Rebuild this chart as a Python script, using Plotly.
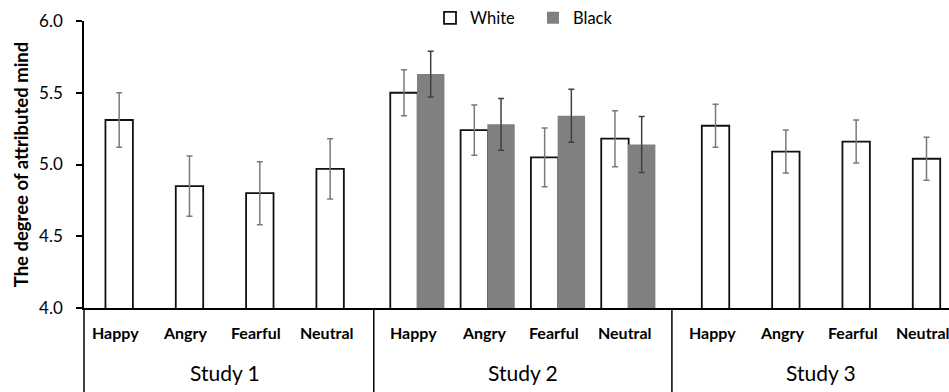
import plotly.graph_objects as go

studies = ["Study 1", "Study 2", "Study 3"]
emotions = ["Happy", "Angry", "Fearful", "Neutral"]

white_mean = [5.31, 4.85, 4.80, 4.97, 5.50, 5.24, 5.05, 5.18, 5.27, 5.09, 5.16, 5.04]
white_err = [0.19, 0.21, 0.22, 0.21, 0.16, 0.175, 0.205, 0.195, 0.15, 0.15, 0.15, 0.15]
black_mean = [None, None, None, None, 5.63, 5.28, 5.34, 5.14, None, None, None, None]
black_err = [None, None, None, None, 0.16, 0.18, 0.185, 0.195, None, None, None, None]

FONT = "Lato"
study_step = 4.24
bar_w = 0.39
half = 0.19

pos = [s * study_step + i for s in range(len(studies)) for i in range(len(emotions))]
white_x = [p - half if b is not None else p for p, b in zip(pos, black_mean)]
black_x = [p + half for p in pos]

fig = go.Figure()
fig.add_trace(go.Bar(
    name="White", x=white_x, y=white_mean, width=bar_w,
    marker=dict(color="white", line=dict(color="#111111", width=1.8)),
    error_y=dict(type="data", array=white_err, color="#7a7a7a", thickness=1.5, width=3),
))
fig.add_trace(go.Bar(
    name="Black", x=black_x, y=black_mean, width=bar_w,
    marker=dict(color="#808080", line=dict(color="#808080", width=0)),
    error_y=dict(type="data", array=black_err, color="#404040", thickness=1.5, width=3),
))

shapes = []
annotations = []
# dividers: y-axis edge and midpoints between studies
shapes.append(dict(type="line", xref="paper", yref="paper", x0=0, x1=0, y0=0, y1=-0.35,
                   line=dict(color="black", width=1.5)))
for s in range(1, len(studies) + 1):
    xd = ((s - 1) * study_step + 3 + s * study_step) / 2
    shapes.append(dict(type="line", xref="x", yref="paper", x0=xd, x1=xd, y0=0, y1=-0.35,
                       line=dict(color="black", width=1.5)))

for s, st in enumerate(studies):
    for i, em in enumerate(emotions):
        annotations.append(dict(x=s * study_step + i - 0.05, y=-0.087, xref="x", yref="paper",
                                text="<b>%s</b>" % em, showarrow=False, yanchor="middle",
                                font=dict(family=FONT, size=16, color="black")))
    annotations.append(dict(x=s * study_step + 1.5, y=-0.226, xref="x", yref="paper",
                            text=st, showarrow=False, yanchor="middle",
                            font=dict(family=FONT, size=21, color="black")))

fig.update_layout(
    width=949, height=392,
    margin=dict(l=84, r=0, t=21, b=84, autoexpand=False),
    paper_bgcolor="white", plot_bgcolor="white",
    barmode="overlay",
    font=dict(family=FONT, color="black"),
    showlegend=True,
    legend=dict(orientation="h", x=0.4, xanchor="left", y=1.01, yanchor="middle",
                entrywidth=58, entrywidthmode="pixels",
                font=dict(family=FONT, size=16.5, color="black"), bgcolor="rgba(0,0,0,0)",
                traceorder="normal"),
    xaxis=dict(range=[-0.5, 11.8], showline=True, linecolor="black", linewidth=1.5,
               showticklabels=False, ticks="", showgrid=False, zeroline=False, automargin=False),
    yaxis=dict(range=[4, 6], dtick=0.5, tick0=4, tickformat=".1f", ticks="outside",
               ticklen=6, tickcolor="black", tickwidth=1.5, showline=True, linecolor="black",
               linewidth=1.5, showgrid=False, zeroline=False, automargin=False,
               ticklabelstandoff=10,
               tickfont=dict(family=FONT, size=17, color="black"),
               title=dict(text="<b>The degree of attributed mind</b>", standoff=6,
                          font=dict(family=FONT, size=18.5, color="black"))),
    shapes=shapes, annotations=annotations,
)

fig.write_html("out.html", config={"displayModeBar": False},
               post_script="document.body.style.margin='0';document.body.style.overflow='hidden';")
